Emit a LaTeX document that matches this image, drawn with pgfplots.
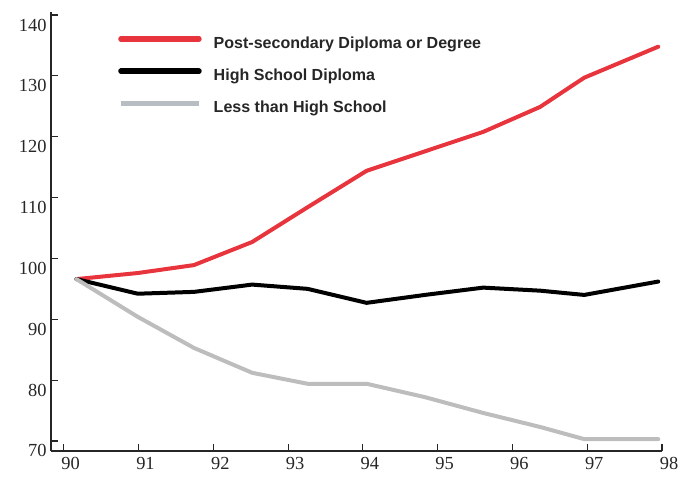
\documentclass[border=0pt]{standalone}
\usepackage{pgfplots}
\pgfplotsset{compat=1.18}
\usepackage{fontspec}
\setmainfont{Liberation Serif}
\newfontfamily\legendfont{Liberation Sans}

\definecolor{postred}{HTML}{E8343C}
\definecolor{lessgray}{HTML}{BDBDBD}
\definecolor{leggray}{HTML}{B8BDC4}

\begin{document}
\begin{tikzpicture}
  \useasboundingbox (-51bp,-27bp) rectangle (627bp,451bp);
  \begin{axis}[
    at={(0,0)}, anchor=south west,
    scale only axis,
    width=611bp, height=439bp,
    xmin=89.83, xmax=98,
    ymin=68.35, ymax=140.5,
    axis x line=bottom, axis y line=left,
    axis line style={-, line width=1.3bp, black!85},
    tick align=inside,
    major tick length=7bp,
    tick style={line width=1.1bp, black!85},
    xtick={90,...,98},
    ytick={70,80,...,140},
    /pgf/number format/assume math mode=true,
    tick label style={font=\fontsize{18.5}{18.5}\selectfont, text=black!85},
    yticklabel style={yshift=-10bp, xshift=-1bp},
    xticklabel style={xshift=7bp, yshift=-3bp},
    legend style={
      at={(0.1097,0.9453)}, anchor=north west,
      draw=none, fill=none, inner sep=0pt,
      font=\legendfont\bfseries\fontsize{16.1}{16.1}\selectfont,
      nodes={inner sep=0pt, text height=12bp, text depth=4bp, text=black!85},
      row sep=16bp, column sep=12bp,
    },
    legend cell align=left,
    legend image code/.code={
      \draw[#1, line width=5.5bp] (0bp,5.5bp) -- (78bp,5.5bp);
    },
  ]
    % Post-secondary
    \addplot[postred, line width=4bp, line join=round, line cap=round] coordinates {
      (90.17,96.6) (90.99,97.6) (91.74,98.9) (92.52,102.7) (93.26,108.4)
      (94.05,114.4) (94.83,117.6) (95.61,120.8) (96.37,124.9) (96.96,129.7)
      (97.95,134.8)};
    \addlegendentry{Post-secondary Diploma or Degree}

    % High school
    \addplot[black, line width=4bp, line join=round, line cap=round] coordinates {
      (90.17,96.6) (90.99,94.2) (91.74,94.5) (92.52,95.7) (93.26,95.0)
      (94.05,92.7) (94.83,94.0) (95.61,95.2) (96.37,94.7) (96.96,94.0)
      (97.95,96.2)};
    \addlegendentry{High School Diploma}

    % Less than high school
    \addplot[lessgray, line width=4bp, line join=round, line cap=round,
      forget plot] coordinates {
      (90.17,96.6) (90.99,90.4) (91.74,85.3) (92.52,81.2) (93.26,79.4)
      (94.05,79.4) (94.83,77.2) (95.61,74.6) (96.37,72.3) (96.96,70.3)
      (97.95,70.3)};
    \addlegendimage{leggray}
    \addlegendentry{Less than High School}
  \end{axis}
\end{tikzpicture}
\end{document}
